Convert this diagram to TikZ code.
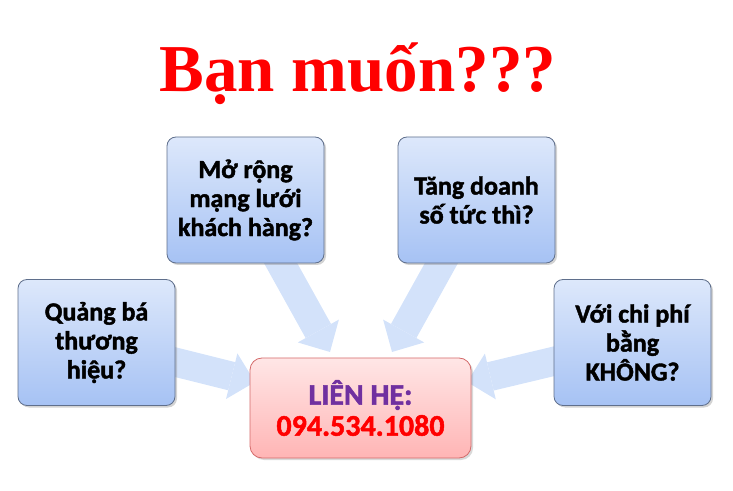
\documentclass[tikz,border=0pt]{standalone}
\usepackage{fontspec}
\setmainfont{Liberation Serif}
\newfontfamily\calib{Carlito}[BoldFont={Carlito Bold}, BoldFeatures={FakeBold=1.6}]
\usetikzlibrary{arrows.meta,positioning,shadows,backgrounds}
\definecolor{boxtop}{HTML}{DDE8FB}
\definecolor{boxbot}{HTML}{A6C2F4}
\definecolor{boxline}{HTML}{5F6F8C}
\definecolor{hubtop}{HTML}{FFE6E6}
\definecolor{hubbot}{HTML}{FFB5B5}
\definecolor{hubline}{HTML}{D46A6A}
\definecolor{feedblue}{HTML}{D3E2FA}
\definecolor{callpurple}{HTML}{7030A0}

\begin{document}
\begin{tikzpicture}[x=1pt, y=1pt,
    askbox/.style={draw=boxline, line width=0.8pt, rounded corners=9pt,
        top color=boxtop, bottom color=boxbot,
        minimum width=157pt, minimum height=126pt, align=center,
        font=\calib\bfseries\fontsize{26}{29}\selectfont,
        drop shadow={shadow xshift=2pt, shadow yshift=-2pt, opacity=0.35}},
    hubbox/.style={draw=hubline, line width=0.8pt, rounded corners=12pt,
        top color=hubtop, bottom color=hubbot,
        minimum width=221pt, minimum height=100pt, align=center,
        font=\calib\bfseries\fontsize{30}{31}\selectfont,
        drop shadow={shadow xshift=2pt, shadow yshift=-2pt, opacity=0.3}},
    feed/.style={line width=29pt, draw=feedblue,
        -{Triangle[width=47pt, length=24pt, line width=0pt]}}]
    \useasboundingbox (0,0) rectangle (733,490);

    % Title
    \node (title) [anchor=base, text=red, font=\bfseries\fontsize{67}{70}\selectfont]
        at (358,398) {Bạn muốn???};

    % Questions
    \node (brand) [askbox] at (96.5,147.5) {Quảng bá\\thương\\hiệu?};
    \node (reach) [askbox] at (245.5,290) {Mở rộng\\mạng lưới\\khách hàng?};
    \node (sales) [askbox] at (476.5,290) {Tăng doanh\\số tức thì?};
    \node (cost)  [askbox] at (632.5,147.5) {Với chi phí\\bằng\\KHÔNG?};

    % Contact
    \node (hub) [hubbox] at (360.5,82)
        {{\color{callpurple}LIÊN HỆ:}\\{\color{red}094.534.1080}};

    % Arrow tips
    \coordinate (tipbrand) at (255,108);
    \coordinate (tipreach) at (330,138);
    \coordinate (tipsales) at (392,138);
    \coordinate (tipcost)  at (467,108);

    \begin{pgfonlayer}{background}
        \draw[feed] (brand.center) -- (tipbrand);
        \draw[feed] (reach.center) -- (tipreach);
        \draw[feed] (sales.center) -- (tipsales);
        \draw[feed] (cost.center) -- (tipcost);
    \end{pgfonlayer}
\end{tikzpicture}
\end{document}
